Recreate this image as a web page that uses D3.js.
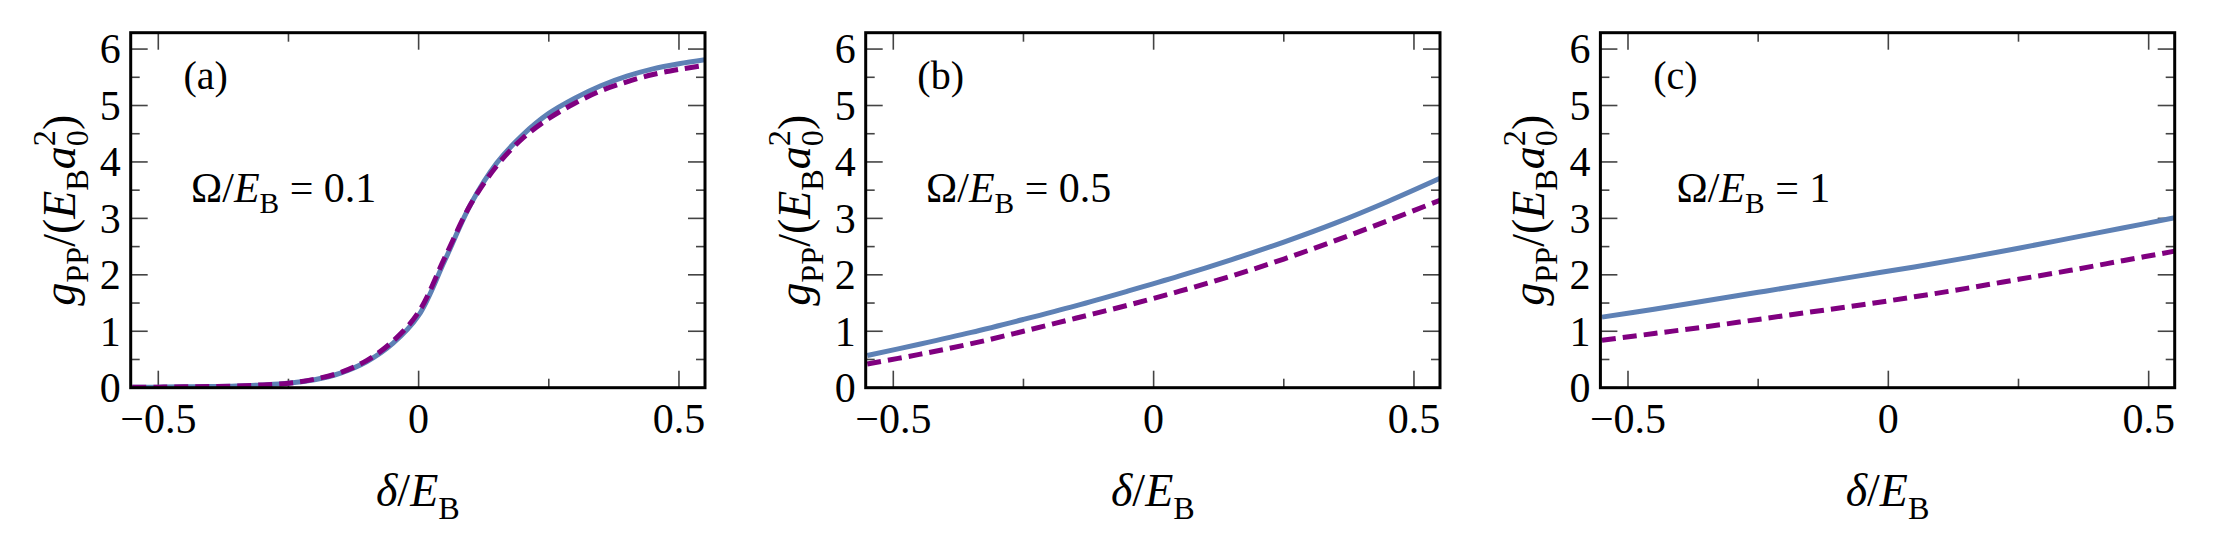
<!DOCTYPE html>
<html>
  <head>
    <meta charset="utf-8">
    <title>g_PP vs delta</title>
    <script src="https://d3js.org/d3.v7.min.js"></script>
    <style>
      body { margin: 0; background: #fff; }
    </style>
  </head>
  <body>
    <div id="chart"></div>
    <script>
      // delta / E_B sample points
      var deltaA = [-0.55, -0.5, -0.45, -0.4, -0.35, -0.3, -0.25, -0.2, -0.15, -0.1, -0.05, 0,
                    0.05, 0.1, 0.15, 0.2, 0.25, 0.3, 0.35, 0.4, 0.45, 0.5, 0.55];
      var deltaBC = [-0.55, -0.45, -0.35, -0.25, -0.15, -0.05, 0.05, 0.15, 0.25, 0.35, 0.45, 0.55];

      // panel (a), Omega/E_B = 0.1
      var solidA  = [0.01, 0.01, 0.015, 0.02, 0.03, 0.05, 0.08, 0.14, 0.26, 0.46, 0.78, 1.28,
                     2.25, 3.25, 3.98, 4.48, 4.86, 5.13, 5.35, 5.52, 5.65, 5.74, 5.81];
      var dashedA = [0.01, 0.01, 0.015, 0.02, 0.03, 0.05, 0.08, 0.15, 0.27, 0.48, 0.82, 1.34,
                     2.30, 3.25, 3.93, 4.42, 4.77, 5.04, 5.26, 5.42, 5.55, 5.64, 5.71];
      // panel (b), Omega/E_B = 0.5
      var solidB  = [0.57, 0.77, 0.98, 1.21, 1.45, 1.71, 1.98, 2.27, 2.58, 2.92, 3.30, 3.71];
      var dashedB = [0.42, 0.59, 0.78, 1.00, 1.23, 1.46, 1.71, 1.98, 2.28, 2.61, 2.96, 3.32];
      // panel (c), Omega/E_B = 1
      var solidC  = [1.25, 1.39, 1.54, 1.69, 1.84, 1.99, 2.14, 2.30, 2.47, 2.65, 2.83, 3.01];
      var dashedC = [0.84, 0.96, 1.08, 1.21, 1.34, 1.47, 1.61, 1.76, 1.92, 2.08, 2.25, 2.42];

      var panelTags = ["(a)", "(b)", "(c)"];
      var omegaVals = ["0.1", "0.5", "1"];
      var xMajor = [-0.5, 0, 0.5];
      var xMinor = [-0.25, 0.25];
      var yMajor = [0, 1, 2, 3, 4, 5, 6];
      var yMinor = [0.5, 1.5, 2.5, 3.5, 4.5, 5.5];

      var panels = [
        { delta: deltaA, solid: solidA, dashed: dashedA },
        { delta: deltaBC, solid: solidB, dashed: dashedB },
        { delta: deltaBC, solid: solidC, dashed: dashedC }
      ];

      var width = 2213, height = 536;
      var lefts = [130.7, 865.7, 1600.4];
      var plotTop = 32.7, pw = 574.3, ph = 355;
      var serif = "'Liberation Serif', 'Times New Roman', Times, serif";
      var tickFs = 42, labelFs = 46, annFs = 42;

      var svg = d3.select("#chart").append("svg")
        .attr("width", width).attr("height", height)
        .attr("font-family", serif);

      var x = d3.scaleLinear().domain([-0.553, 0.55]).range([0, pw]);
      var y = d3.scaleLinear().domain([0, 6.29]).range([ph, 0]);

      // writes a math-ish label as tspans (italic, sub, sup)
      function mathText(t, fs, parts) {
        var shift = 0;
        parts.forEach(function(p) {
          var target = p.sub ? 0.28 * fs : (p.sup ? -0.42 * fs : 0);
          var ts = t.append("tspan").text(p.t)
            .attr("dy", target - shift)
            .attr("font-size", (p.sub || p.sup ? 0.7 * fs : fs))
            .attr("font-style", p.it ? "italic" : "normal");
          if (p.dx) ts.attr("dx", p.dx);
          shift = target;
        });
      }

      panels.forEach(function(pd, i) {
        var g = svg.append("g").attr("transform", "translate(" + lefts[i] + "," + plotTop + ")");

        g.append("clipPath").attr("id", "clip" + i)
          .append("rect").attr("width", pw).attr("height", ph);

        // ticks, all inward on four sides
        var tk = g.append("g").attr("stroke", "#444").attr("stroke-width", 1.6);
        function vt(vals, len) {
          vals.forEach(function(v) {
            tk.append("line").attr("x1", x(v)).attr("x2", x(v)).attr("y1", ph).attr("y2", ph - len);
            tk.append("line").attr("x1", x(v)).attr("x2", x(v)).attr("y1", 0).attr("y2", len);
          });
        }
        function ht(vals, len) {
          vals.forEach(function(v) {
            tk.append("line").attr("y1", y(v)).attr("y2", y(v)).attr("x1", 0).attr("x2", len);
            tk.append("line").attr("y1", y(v)).attr("y2", y(v)).attr("x1", pw).attr("x2", pw - len);
          });
        }
        vt(xMajor, 17); vt(xMinor, 9);
        ht(yMajor, 17); ht(yMinor, 9);

        // curves
        var line = d3.line()
          .x(function(d) { return x(d[0]); })
          .y(function(d) { return y(d[1]); })
          .curve(d3.curveCatmullRom.alpha(0.5));
        var cg = g.append("g").attr("clip-path", "url(#clip" + i + ")");
        cg.append("path")
          .datum(d3.zip(pd.delta, pd.solid))
          .attr("d", line)
          .attr("fill", "none").attr("stroke", "#5e81b5").attr("stroke-width", 5);
        cg.append("path")
          .datum(d3.zip(pd.delta, pd.dashed))
          .attr("d", line)
          .attr("fill", "none").attr("stroke", "#800080").attr("stroke-width", 5)
          .attr("stroke-dasharray", "14,7");

        // frame
        g.append("rect").attr("width", pw).attr("height", ph)
          .attr("fill", "none").attr("stroke", "#000").attr("stroke-width", 3);

        // tick labels
        xMajor.forEach(function(v) {
          g.append("text").attr("x", x(v)).attr("y", ph + 45)
            .attr("text-anchor", "middle").attr("font-size", tickFs)
            .text(v < 0 ? "\u2212" + Math.abs(v) : String(v));
        });
        yMajor.forEach(function(v) {
          g.append("text").attr("x", -10).attr("y", y(v)).attr("dy", "0.34em")
            .attr("text-anchor", "end").attr("font-size", tickFs)
            .text(v);
        });

        // x label
        var xl = g.append("text").attr("x", pw / 2).attr("y", 473)
          .attr("text-anchor", "middle");
        mathText(xl, labelFs, [{ t: "\u03b4", it: true }, { t: "/" }, { t: "E", it: true }, { t: "B", sub: true }]);

        // y label
        var yl = g.append("text")
          .attr("transform", "translate(-56," + (ph / 2) + ") rotate(-90)")
          .attr("text-anchor", "middle");
        mathText(yl, labelFs, [
          { t: "g", it: true }, { t: "PP", sub: true }, { t: "/(" },
          { t: "E", it: true }, { t: "B", sub: true }, { t: "a", it: true },
          { t: "2", sup: true }, { t: "0", sub: true, dx: -0.35 * labelFs },
          { t: ")" }
        ]);

        // panel tag and Omega annotation
        g.append("text").attr("x", 75).attr("y", 56)
          .attr("text-anchor", "middle").attr("font-size", 40)
          .text(panelTags[i]);
        var an = g.append("text").attr("x", 153).attr("y", 169)
          .attr("text-anchor", "middle");
        mathText(an, annFs, [{ t: "\u03a9/" }, { t: "E", it: true }, { t: "B", sub: true }, { t: " = " + omegaVals[i] }]);
      });
    </script>
  </body>
</html>
